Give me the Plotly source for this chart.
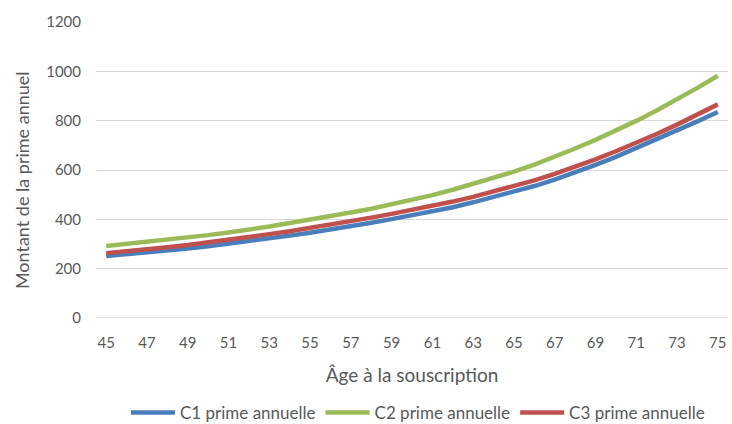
import plotly.graph_objects as go

# Age at subscription (one category per year)
ages = list(range(45, 76))
tick_ages = list(range(45, 76, 2))

# Annual premium by age for the three contracts
c1_prime = [251, 258, 266, 274, 282, 291, 301, 311, 322, 334, 346, 358, 372, 386, 401, 416,
            432, 449, 469, 490, 511, 535, 561, 590, 621, 653, 688, 723, 760, 797, 835]
c2_prime = [292, 300, 308, 317, 326, 336, 347, 358, 371, 385, 398, 413, 428, 443, 460, 478,
            498, 520, 543, 567, 593, 622, 653, 687, 722, 759, 799, 841, 886, 933, 982]
c3_prime = [263, 270, 278, 287, 296, 306, 317, 328, 340, 352, 365, 378, 392, 407, 422, 438,
            455, 472, 491, 512, 534, 558, 584, 613, 643, 676, 710, 746, 784, 824, 866]

series = [
    ("C1 prime annuelle", c1_prime, "#4A7EBB"),
    ("C2 prime annuelle", c2_prime, "#9BBB59"),
    ("C3 prime annuelle", c3_prime, "#C0504D"),
]

FONT = "Lato, Calibri, 'Open Sans', sans-serif"
GREY = "#595959"

fig = go.Figure()
for name, values, color in series:
    fig.add_trace(go.Scatter(
        x=ages, y=values, name=name, mode="lines",
        line=dict(color=color, width=4.5),
    ))

fig.update_layout(
    width=732, height=424,
    margin=dict(l=96, r=4, t=22, b=106, autoexpand=False),
    paper_bgcolor="white", plot_bgcolor="white",
    font=dict(family=FONT, size=15, color=GREY),
    showlegend=True,
    legend=dict(
        orientation="h", x=0.571, xref="container", xanchor="center",
        y=0.026, yref="container", yanchor="middle",
        font=dict(family=FONT, size=17, color=GREY),
        itemwidth=44, tracegroupgap=0,
    ),
)

fig.update_xaxes(
    range=[44.5, 75.5], tickvals=tick_ages, ticktext=[str(a) for a in tick_ages],
    showgrid=False, zeroline=False, showline=False, ticks="",
    ticklabelstandoff=14, automargin=False,
    tickfont=dict(family=FONT, size=15, color=GREY),
    title=dict(text="Âge à la souscription", standoff=18,
               font=dict(family=FONT, size=19, color=GREY)),
)

fig.update_yaxes(
    range=[0, 1200], tickvals=[0, 200, 400, 600, 800, 1000, 1200],
    showgrid=True, gridcolor="#D9D9D9", gridwidth=1.3,
    zeroline=False, showline=False, ticks="",
    ticklabelstandoff=14, automargin=False,
    tickfont=dict(family=FONT, size=15, color=GREY),
)

# Vertical y-axis title beside the tick labels
fig.add_annotation(
    text="Montant de la prime annuel", textangle=-90,
    xref="paper", x=-0.117, xanchor="center",
    yref="paper", y=0.466, yanchor="middle",
    showarrow=False, font=dict(family=FONT, size=18, color=GREY),
)

# Baseline gridline at 0 drawn like the others
fig.add_shape(type="line", xref="paper", yref="y", x0=0, x1=1, y0=0, y1=0,
              line=dict(color="#D9D9D9", width=1.3), layer="below")

fig.write_html("out.html")
